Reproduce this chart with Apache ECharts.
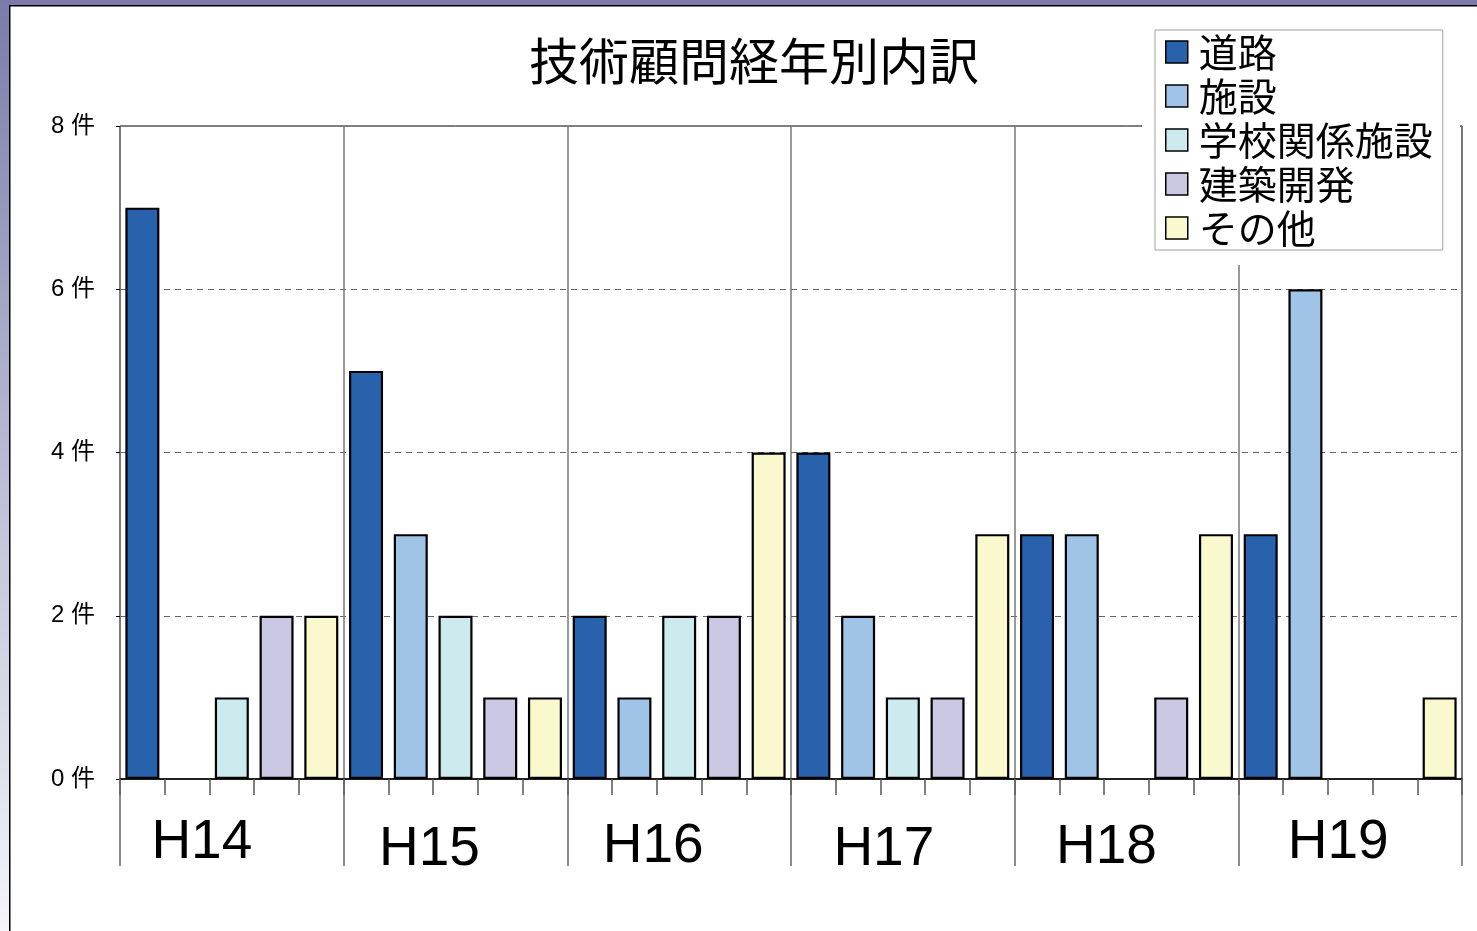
<!DOCTYPE html>
<html><head><meta charset="utf-8">
<script src="https://cdn.jsdelivr.net/npm/echarts@6/dist/echarts.min.js"></script>
<style>html,body{margin:0;padding:0;background:#fff}#c{width:1477px;height:931px}</style>
</head><body><div id="c"></div>
<script>
const years = ['H14','H15','H16','H17','H18','H19'];
const seriesNames = ['道路','施設','学校関係施設','建築開発','その他'];
const road      = [7,5,2,4,3,3];
const facility  = [0,3,1,2,3,6];
const school    = [1,2,2,1,0,0];
const building  = [2,1,2,1,1,0];
const other     = [2,1,4,3,3,1];
const yTicks = [0,2,4,6,8];
const colors = ['#2962ac','#9fc4e7','#cdebee','#cbc8e4','#faf8cd'];

const allVals = [road, facility, school, building, other];
const slots = [];
years.forEach((y,g)=>seriesNames.forEach((n,s)=>slots.push(y+'-'+s)));

const series = allVals.map((vals,s)=>{
  const data = slots.map(()=> '-');
  vals.forEach((v,g)=>{ if(v>0) data[g*5+s]=v; });
  return {
    name: seriesNames[s], type:'bar', stack:'all', barWidth:34,
    data, xAxisIndex:0,
    itemStyle:{color:colors[s], borderColor:'#000', borderWidth:2.2},
    emphasis:{disabled:true}
  };
});

const labelShift = [[0,60,0,0],[7,52,0,0],[4,52,0,0],[7,38,0,0],[5,40,0,0],[0,24,0,0]];
const rich = {};
labelShift.forEach((p,i)=>{ rich['l'+i] = {fontSize:55, fontFamily:'Liberation Sans, Arial, sans-serif', color:'#000', padding:p}; });

const chart = echarts.init(document.getElementById('c'), null, {renderer:'canvas'});
chart.setOption({
  animation:false,
  backgroundColor:'#fff',
  title:{
    text:'技術顧問経年別内訳', left:524, top:31,
    textStyle:{fontSize:50, fontWeight:'normal', color:'#000', fontFamily:'Noto Sans CJK JP'}
  },
  legend:{
    data:seriesNames, orient:'vertical', left:1155, top:30,
    padding:[0,10,0,10], itemGap:0, itemWidth:22, itemHeight:22,
    backgroundColor:'#fff', borderColor:'#a0a0a0', borderWidth:1, z:5,
    icon:'rect',
    itemStyle:{borderColor:'#000', borderWidth:1.5},
    textStyle:{fontSize:39, lineHeight:44, color:'#000', fontFamily:'Noto Sans CJK JP', padding:[0,0,0,6]}
  },
  grid:{left:120, top:126, right:15, bottom:152, show:true, borderColor:'#000', borderWidth:1, backgroundColor:'transparent'},
  xAxis:[{
    type:'category', data:slots, position:'bottom',
    axisLine:{show:true, lineStyle:{color:'#000', width:1.5}},
    axisTick:{show:true, interval:0, length:16, lineStyle:{color:'#555', width:1.5}},
    axisLabel:{show:false}, splitLine:{show:false}
  },{
    type:'category', data:years, position:'bottom',
    axisLine:{show:false},
    axisTick:{show:true, interval:0, length:87, lineStyle:{color:'#666', width:1.5}},
    splitLine:{show:true, interval:0, lineStyle:{color:'#777', width:1.5}},
    axisLabel:{show:true, interval:0, margin:36, formatter:(v,i)=>'{l'+i+'|'+v+'}', rich}
  }],
  yAxis:{
    type:'value', min:0, max:8, interval:2,
    axisLine:{show:false},
    axisTick:{show:true, length:4, lineStyle:{color:'#000'}},
    axisLabel:{margin:25, fontSize:24, color:'#000', fontFamily:'Liberation Sans, Noto Sans CJK JP',
      formatter:v=> yTicks.includes(v) ? v+' 件' : ''},
    splitLine:{show:true, showMinLine:false, showMaxLine:false, lineStyle:{color:'#666', type:[6,5], width:1}}
  },
  series,
  graphic:[
    {type:'rect', z:100, shape:{x:0,y:0,width:1477,height:5}, style:{fill:'#7b7bab'}},
    {type:'rect', z:100, shape:{x:0,y:0,width:9,height:931}, style:{fill:new echarts.graphic.LinearGradient(0,0,0,1,[{offset:0,color:'#7b7bab'},{offset:0.6,color:'#c8c8de'},{offset:1,color:'#f4f4f9'}])}},
    {type:'rect', z:101, shape:{x:9,y:5,width:1468,height:1.5}, style:{fill:'#000'}},
    {type:'rect', z:101, shape:{x:9,y:5,width:1.5,height:926}, style:{fill:'#000'}},
    {type:'rect', z:3, shape:{x:1142,y:20,width:318,height:245}, style:{fill:'#fff'}}
  ]
});
</script></body></html>
